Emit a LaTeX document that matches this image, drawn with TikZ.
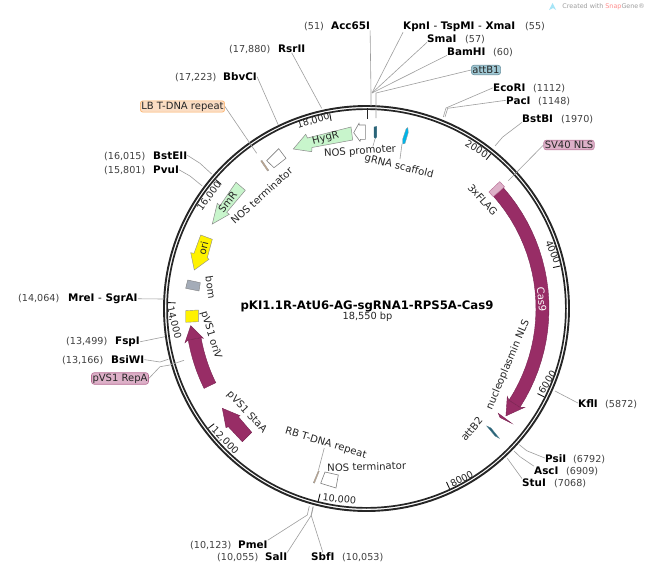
\documentclass[tikz,border=0pt]{standalone}
\usepackage{fontspec}
\setmainfont{DejaVu Sans}
\def\cxx{366.5}
\def\cyy{308.5}
\newcommand{\annseg}[4]{plot[domain=#1:#2,samples=24] ({\cxx+#4*sin(\x)},{\cyy-#4*cos(\x)}) -- plot[domain=#2:#1,samples=24] ({\cxx+#3*sin(\x)},{\cyy-#3*cos(\x)}) -- cycle}
\tikzset{
  x=1pt,y=-1pt,
  txt/.style={font=\fontsize{10.1}{11}\selectfont,text=black!85,inner sep=0pt},
  nm/.style={font=\fontsize{10.4}{11}\selectfont\bfseries,text=black,inner sep=0pt,anchor=base west},
  posn/.style={font=\fontsize{9.6}{11}\selectfont,text=black!75,inner sep=0pt,anchor=base west},
  lead/.style={draw=black!38!white,line width=0.6pt},
  tickm/.style={draw=black!90,line width=0.9pt},
  ticklab/.style={font=\fontsize{9.6}{11}\selectfont,text=black!85,inner sep=0pt},
  tagb/.style={font=\fontsize{10}{11}\selectfont,text=black!85,inner sep=1pt,rounded corners=2.5pt,line width=0.6pt},
  maroon/.style={fill=plum,draw=plum!80!black,line width=0.4pt},
  mintf/.style={fill=mint,draw=black!45,line width=0.5pt},
  blank/.style={fill=white,draw=black!50,line width=0.6pt},
}
\definecolor{plum}{HTML}{982D66}
\definecolor{mint}{HTML}{C8F5CC}
\definecolor{pinktag}{HTML}{DDB0C8}
\definecolor{peach}{HTML}{FBDDC4}
\definecolor{bluetag}{HTML}{9FC8D4}
\definecolor{teal1}{HTML}{2A6478}
\definecolor{cyan1}{HTML}{00B4E8}
\definecolor{tan1}{HTML}{C0A58A}
\definecolor{bomgrey}{HTML}{A4ACB8}
\begin{document}
\begin{tikzpicture}
\useasboundingbox (0,0) rectangle (649,570);
\fill[white] (0,0) rectangle (649,570);
% backbone
\draw[black!85,line width=1.9pt] (\cxx,\cyy) circle[radius=202.5];
\draw[black!85,line width=1.7pt] (\cxx,\cyy) circle[radius=199.4];
% ticks
\foreach \p in {200,400,...,1800}{
  \pgfmathsetmacro{\a}{\p/1855*360}
  \draw[tickm] ({\cxx+198.5*sin(\a)},{\cyy-198.5*cos(\a)}) -- ({\cxx+191*sin(\a)},{\cyy-191*cos(\a)});
}
% tick labels
\node[ticklab,rotate=-32] (t2k) at (476.7,149) {2000};
\node[ticklab,rotate=-67] (t4k) at (553,252) {4000};
\node[ticklab,rotate=57] (t6k) at (547.3,382) {6000};
\node[ticklab,rotate=28] (t8k) at (461.7,479) {8000};
\node[ticklab,rotate=-6] (t10k) at (339.3,499.3) {10,000};
\node[ticklab,rotate=-45] (t12k) at (225,440.7) {12,000};
\node[ticklab,rotate=-76] (t14k) at (174,322.7) {14,000};
\node[ticklab,rotate=54] (t16k) at (209.3,196) {16,000};
\node[ticklab,rotate=17] (t18k) at (313.3,120.7) {18,000};
% features
\filldraw[maroon] \annseg{48.6}{122.8}{169.5}{182.5};
\filldraw[maroon] ({\cxx+166*sin(122)},{\cyy-166*cos(122)}) -- ({\cxx+176*sin(127.6)},{\cyy-176*cos(127.6)}) -- ({\cxx+186.5*sin(122)},{\cyy-186.5*cos(122)}) -- ({\cxx+182.5*sin(122.8)},{\cyy-182.5*cos(122.8)}) -- ({\cxx+169.5*sin(122.8)},{\cyy-169.5*cos(122.8)}) -- cycle;
\filldraw[fill=pinktag,draw=plum!70,line width=0.4pt] \annseg{46.4}{48.6}{169}{184};
\filldraw[maroon] \annseg{243.8}{260}{168}{181};
\filldraw[maroon] (185,342.7) -- (190.7,325.7) -- (203.3,338.3) -- ({\cxx+168*sin(260)},{\cyy-168*cos(260)}) -- ({\cxx+181*sin(260)},{\cyy-181*cos(260)}) -- cycle;
\filldraw[maroon] (242.3,441.7) -- (251.7,432.3) -- (238.3,416.7) -- (240,415.7) -- (222.3,408.3) -- (226,427.7) -- (228.3,426.7) -- cycle;
\filldraw[maroon] (498.3,413.3) -- (511.7,423.3) -- (510,422.5) -- (500,417.5) -- cycle;
\filldraw[fill=teal1,draw=teal1!80,line width=0.3pt] (486.7,426) -- (491,428) -- (499.3,438.3) -- (495,436) -- cycle;
\filldraw[mintf] (293.3,149) -- (305.7,134.3) -- (307.5,138) -- (351,127) -- (352.7,140) -- (312,147.5) -- (311.7,151.7) -- cycle;
\filldraw[mintf] (236,182.3) -- (245.3,190.3) -- (226.7,212.3) -- (229.3,214.3) -- (212.3,224) -- (217.3,203.3) -- (220,205.7) -- cycle;
\filldraw[fill=yellow,draw=black!45,line width=0.4pt] (200.7,235) -- (212.3,239.3) -- (207.3,257.7) -- (209,259.3) -- (194.3,270) -- (190.7,252.7) -- (194,253.3) -- cycle;
\filldraw[blank] (353.7,132.7) -- (359,123.3) -- (359.3,125) -- (365.3,125) -- (365.3,139.3) -- (360.5,139.3) -- (360,141.3) -- cycle;
\filldraw[fill=teal1,draw=teal1,line width=0.3pt] (374,127) -- (376.6,126.5) -- (376.6,137) -- (375.2,138.5) -- (374,137) -- cycle;
\filldraw[fill=cyan1,draw=black!40,line width=0.3pt] (407.8,127.5) -- (408.3,132.5) -- (405,143.5) -- (402.7,144) -- (402.7,139) -- (406,129) -- cycle;
\filldraw[blank] (266.7,160.7) -- (278.7,148.7) -- (286,158.3) -- (274,167.7) -- cycle;
\filldraw[blank] (320.7,483.3) -- (325,472) -- (338.3,475) -- (336,488) -- cycle;
\filldraw[fill=tan1,draw=black!40,line width=0.3pt] (260.7,161) -- (262,160.3) -- (268.8,170.3) -- (267.5,171) -- cycle;
\filldraw[fill=tan1,draw=black!40,line width=0.3pt] (313.3,482.7) -- (318.3,470.7) -- (319.3,471.2) -- (314.5,483.2) -- cycle;
\filldraw[fill=bomgrey,draw=black!50,line width=0.4pt] (187.7,280) -- (200.3,282.7) -- (199,291) -- (185.7,288.3) -- cycle;
\filldraw[fill=yellow,draw=black!45,line width=0.4pt] (185.7,310.7) -- (198.3,310) -- (198.3,321.7) -- (185.7,322.3) -- cycle;
\draw[black!85,line width=1.6pt] (367.5,108) -- (367.5,119);
% inner feature labels
\node[txt,rotate=-48] (lFlag) at (482.7,200) {3xFLAG};
\node[txt,rotate=-85,text=white] (lCas) at (541.7,299.3) {Cas9};
\node[txt,rotate=67] (lNuc) at (508,365) {nucleoplasmin NLS};
\node[txt,rotate=50] (lAttB2) at (471.7,429) {attB2};
\node[txt,rotate=14] (lHyg) at (325.7,138.3) {HygR};
\node[txt,rotate=4] (lNosP) at (360,151.7) {NOS promoter};
\node[txt,rotate=-14] (lGrna) at (399,166.7) {gRNA scaffold};
\node[txt,rotate=42] (lNosT) at (261.7,195.7) {NOS terminator};
\node[txt,rotate=52] (lSmR) at (227.7,201.7) {SmR};
\node[txt,rotate=76] (lOri) at (203.3,248.3) {ori};
\node[txt,rotate=-82] (lBom) at (210.7,287.3) {bom};
\node[txt,rotate=-73] (lOriV) at (211,335) {pVS1 oriV};
\node[txt,rotate=-47] (lStaA) at (246.7,412.3) {pVS1 StaA};
\node[txt,rotate=-17] (lRB) at (325.7,443.3) {RB T-DNA repeat};
\node[txt,rotate=2] (lNosT2) at (366.7,466.7) {NOS terminator};
% title
\node[inner sep=0pt,font=\fontsize{11.7}{13}\selectfont\bfseries] (title) at (367,306) {pKI1.1R-AtU6-AG-sgRNA1-RPS5A-Cas9};
\node[inner sep=0pt,font=\fontsize{9.8}{11}\selectfont,text=black!85] (size) at (367.5,317) {18,550 bp};
% enzyme labels
\node[posn] (pAcc) at (304,30) {(51)};
\node[nm] (nAcc) at (331,30) {Acc65I};
\node[nm] (nKpn) at (403,30) {KpnI \textmd{-} TspMI \textmd{-} XmaI};
\node[posn] (pKpn) at (525,30) {(55)};
\node[nm] (nSma) at (427,42) {SmaI};
\node[posn] (pSma) at (465,42) {(57)};
\node[nm] (nBam) at (447,55) {BamHI};
\node[posn] (pBam) at (493,55) {(60)};
\node[nm] (nEco) at (493,91.5) {EcoRI};
\node[posn] (pEco) at (533,91.5) {(1112)};
\node[nm] (nPac) at (506,104) {PacI};
\node[posn] (pPac) at (538,104) {(1148)};
\node[nm] (nBst) at (522,122) {BstBI};
\node[posn] (pBst) at (561,122) {(1970)};
\node[nm] (nKfl) at (578,407) {KflI};
\node[posn] (pKfl) at (605,407) {(5872)};
\node[nm] (nPsi) at (545,462) {PsiI};
\node[posn] (pPsi) at (573,462) {(6792)};
\node[nm] (nAsc) at (534,474) {AscI};
\node[posn] (pAsc) at (566,474) {(6909)};
\node[nm] (nStu) at (522,486.5) {StuI};
\node[posn] (pStu) at (554,486.5) {(7068)};
\node[posn] (pPme) at (190,548) {(10,123)};
\node[nm] (nPme) at (238,548) {PmeI};
\node[posn] (pSal) at (217,560.5) {(10,055)};
\node[nm] (nSal) at (265,560.5) {SalI};
\node[nm] (nSbf) at (311,560.5) {SbfI};
\node[posn] (pSbf) at (342,560.5) {(10,053)};
\node[posn] (pBsi) at (62,363.5) {(13,166)};
\node[nm] (nBsi) at (111,363.5) {BsiWI};
\node[posn] (pFsp) at (66,344.5) {(13,499)};
\node[nm] (nFsp) at (115,344.5) {FspI};
\node[posn] (pMre) at (18,301.5) {(14,064)};
\node[nm] (nMre) at (68,301.5) {MreI \textmd{-} SgrAI};
\node[posn] (pPvu) at (104,173.5) {(15,801)};
\node[nm] (nPvu) at (153,173.5) {PvuI};
\node[posn] (pBstE) at (104,159) {(16,015)};
\node[nm] (nBstE) at (153,159) {BstEII};
\node[posn] (pBbv) at (175,80.5) {(17,223)};
\node[nm] (nBbv) at (223,80.5) {BbvCI};
\node[posn] (pRsr) at (229,52.5) {(17,880)};
\node[nm] (nRsr) at (278,52.5) {RsrII};
% tags
\node[tagb,draw=teal1!70,fill=bluetag] (tB1) at (486,70) {attB1};
\node[tagb,draw=plum!60,fill=pinktag] (tSV) at (569,145) {SV40 NLS};
\node[tagb,draw=plum!70,fill=pinktag] (tRep) at (120,378.5) {pVS1 RepA};
\node[tagb,draw=orange!50!peach,fill=peach] (tLB) at (182.5,106.5) {LB T-DNA repeat};
% leader end points
\coordinate (a0) at (371,106); \coordinate (a1) at (371,93);
\coordinate (a2) at (372,93);
\coordinate (a3) at (376,118); \coordinate (a4) at (376,93);
\coordinate (e1) at (446,108); \coordinate (e2) at (443.3,117);
\coordinate (f1) at (447.7,108.3); \coordinate (f2) at (445,117);
\coordinate (b1) at (502.7,137); \coordinate (b2) at (495,146);
\coordinate (s1) at (508.3,180.7);
\coordinate (k1) at (555,391);
\coordinate (g1) at (526.7,450.7); \coordinate (g2) at (519.3,444.7);
\coordinate (h1) at (520,456.7); \coordinate (h2) at (514,451);
\coordinate (i1) at (507.3,458.3);
\coordinate (m1) at (307.3,515); \coordinate (m2) at (309.3,506);
\coordinate (n1) at (311,515.7); \coordinate (n2) at (313,506.7);
\coordinate (o1) at (311.3,515.7); \coordinate (o2) at (313.3,506.7);
\coordinate (rb) at (318.5,470);
\coordinate (q1) at (163.3,299);
\coordinate (r1) at (165,336.7);
\coordinate (u1) at (160,362); \coordinate (u2) at (168.3,359.3);
\coordinate (v1) at (160,366.7); \coordinate (v2) at (170,365); \coordinate (v3) at (184,360.3);
\coordinate (w1) at (200,163.3); \coordinate (w2) at (211.7,174);
\coordinate (y1) at (190,176); \coordinate (y2) at (202.3,186);
\coordinate (lb) at (256.7,153.3);
\coordinate (bb) at (278.3,125);
\coordinate (rs) at (321.7,108.3);
\coordinate (gr) at (402,144); \coordinate (gr2) at (400,159);
\coordinate (np) at (375,139); \coordinate (np2) at (373,146);
% leaders
\draw[lead] (nAcc.south east) -- (a1) -- (a0);
\draw[lead] (nKpn.south west) -- (a2);
\draw[lead] (nSma.south west) -- (a2);
\draw[lead] (nBam.south west) -- (a2);
\draw[lead] (tB1.west) -- (a4) -- (a3);
\draw[lead] (nEco.west) -- (e1) -- (e2);
\draw[lead] (nPac.west) -- (f1) -- (f2);
\draw[lead] (nBst.south west) -- (b1) -- (b2);
\draw[lead] (tSV.west) -- (s1);
\draw[lead] (nKfl.west) -- (k1);
\draw[lead] (nPsi.west) -- (g1) -- (g2);
\draw[lead] (nAsc.north west) -- (h1) -- (h2);
\draw[lead] (nStu.north west) -- (i1);
\draw[lead] (nPme.north east) -- (m1) -- (m2);
\draw[lead] (nSal.north east) -- (n1) -- (n2);
\draw[lead] (nSbf.north) -- (o1) -- (o2);
\draw[lead] (lRB.south) -- (rb);
\draw[lead] (nMre.east) -- (q1);
\draw[lead] (nFsp.east) -- (r1);
\draw[lead] (nBsi.east) -- (u1) -- (u2);
\draw[lead] (tRep.east) -- (v1) -- (v2) -- (v3);
\draw[lead] (nBstE.east) -- (w1) -- (w2);
\draw[lead] (nPvu.east) -- (y1) -- (y2);
\draw[lead] (tLB.east) -- (lb);
\draw[lead] (nBbv.east) -- (bb);
\draw[lead] (nRsr.south) -- (rs);
\draw[lead] (gr) -- (gr2);
\draw[lead] (np) -- (np2);
% watermark
\fill[cyan1!35] (549,10) -- (552.5,3) -- (556,10) -- (553,8) -- cycle;
\node[inner sep=0pt,anchor=base east,font=\fontsize{6.4}{8}\selectfont,text=black!38] (wm) at (645,9) {Created with \textcolor{red!45}{Snap}Gene®};
\end{tikzpicture}
\end{document}
